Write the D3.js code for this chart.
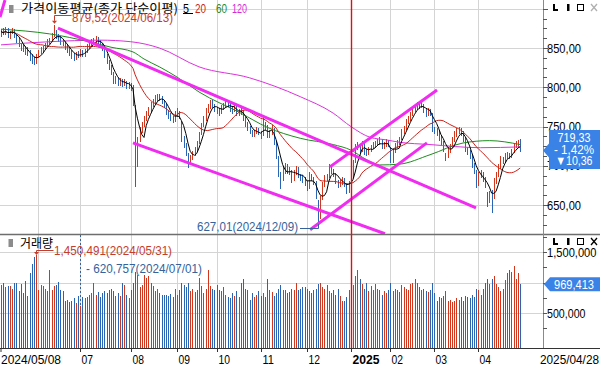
<!DOCTYPE html>
<html>
<head>
<meta charset="utf-8">
<script src="https://cdn.jsdelivr.net/npm/d3@7"></script>
<style>
  body { margin: 0; background: #fff; }
  svg { display: block; }
  text { font-family: "Liberation Sans", Arial, sans-serif; }
</style>
</head>
<body>
<svg width="600" height="366"></svg>
<script>
// daily candles [open, high, low, close], one small array per month
const may = [[866,874,864,871],[872,875,866,868],[868,877,866,874],[875,876,863,866],[865,872,862,870],[870,876,868,873],[872,874,863,866],[866,868,857,860],[861,863,851,855],[854,857,846,850],[851,855,845,848],[849,852,841,846],[845,851,840,843],[844,848,834,838],[838,842,830,835],[836,839,828,832],[831,842,829,840]];
const jun = [[840,848,838,845],[846,851,842,848],[847,853,845,850],[851,856,848,853],[853,861,851,858],[859,863,855,860],[860,869,858,866],[868,879.52,864,870],[871,873,861,865],[866,868,858,862],[862,865,854,858],[858,861,852,856],[857,859,848,852],[852,855,844,848],[848,851,840,844],[844,847,836,840],[840,843,834,838],[837,845,835,842],[843,846,837,840]];
const jul = [[840,849,838,846],[846,848,839,842],[841,849,839,846],[846,855,844,852],[852,859,850,856],[857,861,853,858],[858,863,855,860],[860,865,857,862],[862,864,855,858],[858,860,851,854],[854,856,846,850],[850,851,837,840],[840,842,829,832],[832,835,822,826],[826,828,815,818],[818,820,804,808],[807,814,804,810],[810,812,802,806],[805,812,802,808],[808,810,800,804],[803,810,801,806],[806,808,798,802],[801,807,798,803]];
const aug = [[804,806,795,798],[800,803,776,779],[776,778,673,691],[700,736,698,732],[733,749,730,745],[746,756,742,752],[752,763,749,760],[760,770,757,766],[766,775,763,772],[772,781,769,778],[779,785,775,782],[782,790,779,786],[787,792,783,788],[789,791,783,787],[787,789,779,782],[782,784,774,778],[777,779,765,768],[768,771,760,764],[764,767,757,760],[760,763,754,758],[758,770,756,766]];
const sep = [[765,773,762,768],[768,770,759,762],[755,757,730,734],[735,738,722,726],[726,729,712,716],[714,716,697,706],[705,714,702,710],[711,719,707,715],[716,724,713,720],[720,731,718,728],[730,743,728,740],[741,754,739,750],[751,763,749,760],[760,773,757,770],[771,779,767,776],[776,784,772,780],[781,784,774,778],[777,779,768,772]];
const oct = [[772,775,766,770],[770,773,764,768],[768,778,766,774],[774,780,771,776],[776,785,774,782],[782,784,775,778],[778,780,769,772],[772,775,766,770],[770,778,768,774],[774,776,763,766],[766,772,764,768],[768,774,765,770],[769,771,757,760],[760,762,750,754],[754,756,744,748],[748,751,740,744],[744,746,736,740],[739,746,737,742],[742,750,740,746],[746,748,739,742]];
const nov = [[742,744,734,738],[740,762,738,752],[752,756,746,750],[750,752,735,738],[738,745,735,740],[741,752,739,748],[746,748,727,730],[729,731,708,712],[710,712,686,690],[688,692,670,682],[684,698,680,694],[694,704,690,700],[700,702,690,694],[695,698,688,692],[692,694,678,682],[682,694,680,690],[690,700,688,696],[696,698,685,688],[688,690,680,684],[684,688,678,682],[682,686,674,678]];
const dec = [[678,680,668,672],[672,692,670,688],[688,690,680,684],[684,686,676,680],[678,680,658,661],[655,657,627.01,632],[634,662,632,658],[660,679,656,675],[676,688,673,684],[684,690,680,685],[686,702,684,698],[698,700,690,694],[694,696,686,690],[690,691,677,680],[680,682,672,676],[676,682,673,678],[678,686,676,682],[682,684,673,676],[676,678,664,668],[667,680,665,678]];
const jan = [[678,690,676,686],[687,707,685,704],[705,728,703,724],[724,730,720,726],[726,728,716,720],[720,732,718,728],[728,730,714,718],[718,721,712,716],[716,724,714,720],[720,727,717,724],[724,730,721,726],[726,732,723,728],[728,734,725,730],[730,737,727,732],[732,734,721,724],[724,730,721,726],[726,734,724,730],[731,733,724,728]];
const feb = [[722,724,703,704],[705,721,703,718],[718,729,716,726],[726,733,723,730],[730,737,727,734],[735,747,733,744],[744,751,741,748],[748,759,746,756],[756,763,753,760],[760,769,757,766],[766,775,763,772],[772,777,768,774],[775,781,771,778],[778,780,772,776],[776,781,773,778],[778,779,767,770],[770,772,762,766],[766,773,764,770],[770,772,764,768],[766,767,743,746]];
const mar = [[746,750,740,744],[744,748,738,742],[742,744,732,736],[736,738,726,730],[730,732,718,722],[709,716,706,712],[712,722,710,718],[718,728,716,724],[724,736,722,732],[732,744,730,740],[740,748,737,744],[744,750,741,746],[746,748,738,742],[742,744,730,734],[734,736,717,720],[720,724,714,718],[718,720,708,712],[712,714,697,700],[700,703,690,694],[692,694,672,676]];
const apr = [[676,692,674,688],[688,695,685,690],[689,692,679,682],[682,686,672,676],[665,667,648,656],[656,668,652,660],[660,669,640,652],[660,684,658,680],[680,692,677,688],[688,702,686,698],[698,712,696,708],[708,711,702,706],[706,716,704,712],[712,718,709,714],[714,716,708,712],[712,721,710,718],[718,729,716,726],[726,731,722,728],[728,733,724,729.69],[731,734,718,719.33]];

// daily volume, thousands of shares
const volMay = [960,1000,930,940,945,900,990,1000,860,980,830,1020,780,1150,1300,1420,1450.491];
const volJun = [880,960,940,900,860,1210,880,940,960,1010,870,860,700,720,680,700,740,660,780];
const volJul = [620.757,760,740,770,790,830,1000,800,850,760,820,860,830,880,900,860,780,820,780,1000,960,800,740];
const volAug = [880,1000,1170,1120,920,960,1120,1080,1110,990,940,860,900,820,800,790,800,780,810,770,900];
const volSep = [800,880,1000,960,920,990,860,900,840,870,1080,940,830,900,1210,950,900,880];
const volOct = [960,880,860,920,800,760,740,820,780,860,760,1000,1060,900,880,720,820,760,800,860];
const volNov = [780,820,760,1050,880,840,780,830,900,960,870,880,820,850,900,880,1000,870,900,920,930];
const volDec = [900,860,820,880,900,980,1000,920,900,960,860,830,880,800,900,780,700,690,760,870];
const volJan = [840,960,1100,1200,1060,980,900,1000,860,940,880,980,900,880,800,860,820,880];
const volFeb = [1000,860,900,880,840,960,920,900,880,980,1000,1050,990,920,880,900,860,840,880,1000];
const volMar = [820,700,760,740,780,860,700,720,680,700,740,720,760,700,780,760,740,800,760,900];
const volApr = [880,800,900,1000,1060,980,1060,1100,980,920,860,900,1040,1160,1200,1180,1270,1060,1150,969.413];

// long averages: [day index, value]
const ma60 = [[0,874],[22,868],[40,858],[50,851],[60,845],[65,836],[72,826],[80,813],[90,794],[109,767],[121,749],[136,735],[151,727],[159,720],[166,708],[172,701],[181,702],[195,714],[210,729],[222,732],[236,727]];
const ma120 = [[0,854],[22,858],[45,860],[59,858],[72,850],[90,826],[113,812],[136,788],[151,767],[159,750],[168,736],[175,733],[181,730],[195,727],[218,723],[236,724]];

// drawn trend lines: [[day, price], [day, price]]
const trendLines = [
  [[-0.45, 889.4], [1.82, 911.1]],
  [[25.9, 875.4], [215.9, 646.4]],
  [[60, 729.1], [174.5, 613.4]],
  [[149.5, 698.6], [198.2, 796.6]],
  [[140.5, 618.4], [193.6, 729.1]]
];

// month starts on the time axis [day index, label]
const monthTicks = [[0,"2024/05/08"],[17,""],[36,"07"],[59,"08"],[80,"09"],[98,"10"],[118,"11"],[139,"12"],[159,"2025"],[177,"02"],[197,"03"],[217,"04"]];
const priceLabels = [650, 700, 750, 800, 850];
const volLabels = [500000, 1500000];

const candles = [...may, ...jun, ...jul, ...aug, ...sep, ...oct, ...nov, ...dec, ...jan, ...feb, ...mar, ...apr];
const volumes = [...volMay, ...volJun, ...volJul, ...volAug, ...volSep, ...volOct, ...volNov, ...volDec, ...volJan, ...volFeb, ...volMar, ...volApr].map(v => v * 1000);
const closes = candles.map(d => d[3]);

const svg = d3.select("svg");
const RED = "#d2371e", BLUE = "#2a64b4", GRID = "#d4d4d4";
const plotRight = 543, priceBottom = 234, volTop = 235, volBottom = 348;

const x = d3.scaleLinear().domain([0, 246.36]).range([1, plotRight]);
const yP = d3.scaleLinear().domain([650, 850]).range([205, 48]);
const yV = d3.scaleLinear().domain([0, 1500000]).range([343.5, 252]);
const px = i => Math.round(x(i)) + 0.5;

const defs = svg.append("defs");
defs.append("clipPath").attr("id", "cpP").append("rect").attr("x", 0).attr("y", 0).attr("width", plotRight).attr("height", priceBottom);
defs.append("clipPath").attr("id", "cpV").append("rect").attr("x", 0).attr("y", volTop).attr("width", plotRight).attr("height", volBottom - volTop);

// grid
const grid = svg.append("g").attr("stroke", GRID).attr("shape-rendering", "crispEdges");
[650, 700, 750, 800, 850, 900].forEach(p => {
  grid.append("line").attr("x1", 0).attr("x2", plotRight).attr("y1", Math.round(yP(p)) + 0.5).attr("y2", Math.round(yP(p)) + 0.5);
});
[500000, 1000000, 1500000].forEach(v => {
  grid.append("line").attr("x1", 0).attr("x2", plotRight).attr("y1", Math.round(yV(v)) + 0.5).attr("y2", Math.round(yV(v)) + 0.5);
});
monthTicks.slice(1).forEach(([i, lab]) => {
  if (lab === "2025") return;
  grid.append("line").attr("x1", px(i)).attr("x2", px(i)).attr("y1", 0).attr("y2", volBottom);
});

// candles
const gP = svg.append("g").attr("clip-path", "url(#cpP)");
gP.append("g").attr("shape-rendering", "crispEdges")
  .selectAll("line").data(candles).join("line")
  .attr("x1", (d, i) => px(i)).attr("x2", (d, i) => px(i))
  .attr("y1", d => yP(d[1])).attr("y2", d => yP(d[2]))
  .attr("stroke", d => d[3] >= d[0] ? RED : BLUE).attr("stroke-width", 1);

// moving averages
const sma = n => closes.map((c, i) => d3.mean(closes.slice(Math.max(0, i - n + 1), i + 1)));
const lineIdx = d3.line().x((d, i) => x(i)).y(d => yP(d));
const linePair = d3.line().x(d => x(d[0])).y(d => yP(d[1])).curve(d3.curveMonotoneX);
gP.append("path").attr("d", linePair(ma120)).attr("fill", "none").attr("stroke", "#dc32dc").attr("stroke-width", 1);
gP.append("path").attr("d", linePair(ma60)).attr("fill", "none").attr("stroke", "#1f8a1f").attr("stroke-width", 1);
gP.append("path").attr("d", lineIdx(sma(20))).attr("fill", "none").attr("stroke", "#c8231b").attr("stroke-width", 1);
gP.append("path").attr("d", lineIdx(sma(5))).attr("fill", "none").attr("stroke", "#000").attr("stroke-width", 1);

// trend lines
gP.selectAll("line.trend").data(trendLines).join("line").attr("class", "trend")
  .attr("x1", d => x(d[0][0])).attr("y1", d => yP(d[0][1]))
  .attr("x2", d => x(d[1][0])).attr("y2", d => yP(d[1][1]))
  .attr("stroke", "#f02cf0").attr("stroke-width", 3);

// volume bars
const gV = svg.append("g").attr("clip-path", "url(#cpV)").attr("shape-rendering", "crispEdges");
gV.selectAll("rect").data(volumes).join("rect")
  .attr("x", (d, i) => Math.round(x(i))).attr("width", 1)
  .attr("y", d => yV(d)).attr("height", d => volBottom - yV(d))
  .attr("fill", (d, i) => candles[i][3] >= candles[i][0] ? RED : BLUE);

// frame lines
svg.append("line").attr("x1", 0).attr("x2", 600).attr("y1", 234.5).attr("y2", 234.5).attr("stroke", "#6e6e6e").attr("stroke-width", 1.5);
svg.append("line").attr("x1", 0).attr("x2", 600).attr("y1", volBottom + 0.5).attr("y2", volBottom + 0.5).attr("stroke", "#333");
svg.append("line").attr("x1", plotRight + 0.5).attr("x2", plotRight + 0.5).attr("y1", 0).attr("y2", volBottom).attr("stroke", "#8a8a8a");

// year line
svg.append("rect").attr("x", Math.round(x(159)) - 0.2).attr("y", 0).attr("width", 1.4).attr("height", volBottom)
  .attr("fill", "#e01010");

// right price axis
const axP = svg.append("g").attr("stroke", "#555").attr("shape-rendering", "crispEdges");
d3.range(612.5, 925, 12.5).forEach(p => {
  const y = Math.round(yP(p)) + 0.5;
  if (y < 1 || y > priceBottom - 1) return;
  axP.append("line").attr("x1", plotRight).attr("x2", plotRight + (p % 50 === 0 ? 5 : 4)).attr("y1", y).attr("y2", y);
});
priceLabels.forEach(p => {
  svg.append("text").attr("x", 547).attr("y", yP(p)).attr("dy", "0.36em")
    .attr("font-size", 13).attr("textLength", 34).attr("lengthAdjust", "spacingAndGlyphs")
    .text(d3.format(".2f")(p).replace(".", ","));
});

// right volume axis
d3.range(250000, 1750001, 250000).forEach(v => {
  const y = Math.round(yV(v)) + 0.5;
  if (y < volTop + 1 || y > volBottom - 1) return;
  axP.append("line").attr("x1", plotRight).attr("x2", plotRight + 4).attr("y1", y).attr("y2", y);
});
volLabels.forEach(v => {
  const s = d3.format(",")(v);
  svg.append("text").attr("x", 547).attr("y", yV(v)).attr("dy", "0.36em")
    .attr("font-size", 13).attr("textLength", s.length * 5.5).attr("lengthAdjust", "spacingAndGlyphs")
    .text(s);
});

// time axis
monthTicks.forEach(([i, lab]) => {
  if (!lab) return;
  const xx = i === 0 ? 1 : px(i);
  svg.append("line").attr("x1", xx).attr("x2", xx).attr("y1", volBottom).attr("y2", volBottom + 4).attr("stroke", "#333");
  const t = svg.append("text").attr("x", xx + (i === 0 ? 0 : 1)).attr("y", 359.5).attr("dy", "0.36em")
    .attr("font-size", 13).attr("lengthAdjust", "spacingAndGlyphs").text(lab);
  if (lab.length === 2) t.attr("textLength", 11.5);
  else if (lab === "2025") t.attr("font-weight", "bold").attr("textLength", 27);
  else t.attr("textLength", 60);
});
svg.append("text").attr("x", 599).attr("y", 359.5).attr("dy", "0.36em").attr("text-anchor", "end")
  .attr("font-size", 13).attr("textLength", 59).attr("lengthAdjust", "spacingAndGlyphs").text("2025/04/28");

// panel titles
svg.append("rect").attr("x", 9).attr("y", 5).attr("width", 4.5).attr("height", 8).attr("fill", "#8c8c8c");
svg.append("text").attr("x", 21).attr("y", 8).attr("dy", "0.36em").attr("font-size", 12.5)
  .style("font-family", "'Noto Sans CJK KR', sans-serif")
  .attr("textLength", 157).attr("lengthAdjust", "spacingAndGlyphs").text("가격이동평균(종가 단순이평)");
[["5", 183, "#000", 6], ["20", 195, "#c8231b", 11], ["60", 216, "#1f8a1f", 11], ["120", 232, "#d42ad4", 15]].forEach(([s, xx, c, w]) => {
  svg.append("text").attr("x", xx).attr("y", 8).attr("dy", "0.36em").attr("font-size", 13)
    .attr("fill", c).attr("textLength", w).attr("lengthAdjust", "spacingAndGlyphs").text(s);
});
svg.append("line").attr("x1", 183).attr("x2", 193).attr("y1", 13.5).attr("y2", 13.5).attr("stroke", "#000");

svg.append("rect").attr("x", 8.5).attr("y", 239).attr("width", 4.5).attr("height", 8).attr("fill", "#8c8c8c");
svg.append("text").attr("x", 20).attr("y", 243).attr("dy", "0.36em").attr("font-size", 12.5)
  .style("font-family", "'Noto Sans CJK KR', sans-serif")
  .attr("textLength", 33).attr("lengthAdjust", "spacingAndGlyphs").text("거래량");

// panel icons
function icons(y0, xColor) {
  const g = svg.append("g");
  g.append("path").attr("d", `M553,${y0} h2 v5 h3 v2 h-5 z`).attr("fill", "#000");
  g.append("rect").attr("x", 567).attr("y", y0).attr("width", 2.5).attr("height", 7).attr("fill", "#000");
  g.append("rect").attr("x", 577.5).attr("y", y0 + 0.5).attr("width", 6).attr("height", 6).attr("fill", "none").attr("stroke", "#000");
  g.append("path").attr("d", `M591,${y0} l6,7 M597,${y0} l-6,7`).attr("stroke", xColor).attr("stroke-width", 1.3);
}
icons(4, "#b0b0b0");
icons(238, "#000");

// max / min annotations
const hiX = px(24), hiY = yP(879.52);
svg.append("path").attr("d", `M${hiX + 17},15.5 H${hiX} V${hiY - 4}`).attr("fill", "none").attr("stroke", "#c43c2c");
svg.append("path").attr("d", `M${hiX - 2.5},${hiY - 4} h5 l-2.5,3 z`).attr("fill", "#c43c2c");
svg.append("text").attr("x", 72).attr("y", 17).attr("dy", "0.36em").attr("font-size", 13).attr("fill", "#c43c2c")
  .attr("textLength", 101).attr("lengthAdjust", "spacingAndGlyphs").text("879,52(2024/06/13)");

const loX = px(144), loY = yP(627.01);
svg.append("path").attr("d", `M300,228.5 H${loX} V${loY + 1}`).attr("fill", "none").attr("stroke", "#35629a");
svg.append("text").attr("x", 197).attr("y", 226).attr("dy", "0.36em").attr("font-size", 13).attr("fill", "#35629a")
  .attr("textLength", 101).attr("lengthAdjust", "spacingAndGlyphs").text("627,01(2024/12/09)");

const vHiX = px(16), vHiY = yV(1450491);
svg.append("path").attr("d", `M${vHiX + 17},250.5 H${vHiX} V${vHiY - 3}`).attr("fill", "none").attr("stroke", "#c43c2c");
svg.append("path").attr("d", `M${vHiX - 2.5},${vHiY - 3} h5 l-2.5,3 z`).attr("fill", "#c43c2c");
svg.append("text").attr("x", 54).attr("y", 250).attr("dy", "0.36em").attr("font-size", 13).attr("fill", "#c43c2c")
  .attr("textLength", 118).attr("lengthAdjust", "spacingAndGlyphs").text("1,450,491(2024/05/31)");

const vLoX = px(36);
svg.append("line").attr("x1", vLoX).attr("x2", vLoX).attr("y1", volTop).attr("y2", yV(620757))
  .attr("stroke", "#35629a").attr("stroke-dasharray", "2,2");
svg.append("text").attr("x", 86).attr("y", 268).attr("dy", "0.36em").attr("font-size", 13).attr("fill", "#35629a")
  .attr("textLength", 116).attr("lengthAdjust", "spacingAndGlyphs").text("- 620,757(2024/07/01)");

// last value flags
const FLAG = "#3b82e6";
const last = candles[candles.length - 1][3], prev = candles[candles.length - 2][3];
const fy = yP(last);
svg.append("path").attr("d", `M${plotRight},${fy} L549,${fy - 7} V130 H600 V169 H549 V${fy + 7} Z`).attr("fill", FLAG);
[[d3.format(".2f")(last).replace(".", ","), 137.5, 33],
 ["- " + d3.format(".2f")((prev - last) / prev * 100).replace(".", ",") + "%", 149.5, 40],
 ["▼" + d3.format(".2f")(prev - last).replace(".", ","), 160.5, 37]].forEach(([s, y, w]) => {
  svg.append("text").attr("x", 574).attr("y", y).attr("dy", "0.36em").attr("text-anchor", "middle")
    .attr("font-size", 12.5).attr("fill", "#fff").attr("textLength", w).attr("lengthAdjust", "spacingAndGlyphs").text(s);
});

const lastVol = volumes[volumes.length - 1];
const vy = yV(lastVol);
svg.append("path").attr("d", `M${plotRight + 1},${vy} L550,${vy - 7} H600 V${vy + 7} H550 Z`).attr("fill", FLAG);
svg.append("text").attr("x", 574).attr("y", vy).attr("dy", "0.36em").attr("text-anchor", "middle")
  .attr("font-size", 13).attr("fill", "#fff").attr("textLength", 40).attr("lengthAdjust", "spacingAndGlyphs")
  .text(d3.format(",")(Math.round(lastVol)));
</script>
</body>
</html>
